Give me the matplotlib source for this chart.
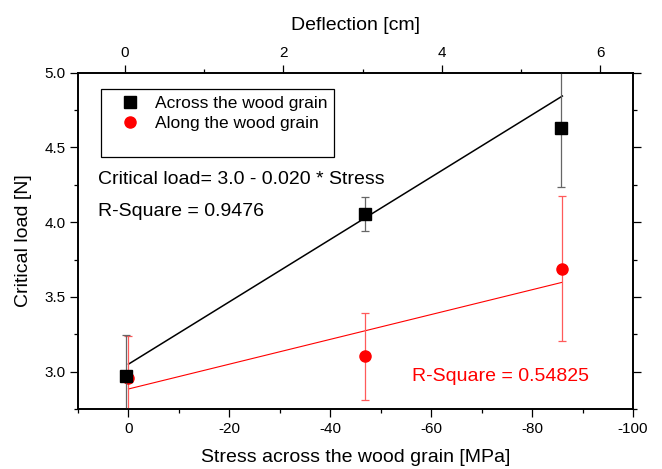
import matplotlib
matplotlib.use("Agg")
import matplotlib.pyplot as plt
import numpy as np
from matplotlib.lines import Line2D
from matplotlib.ticker import MultipleLocator, FormatStrFormatter

plt.rcParams['font.family'] = ['Liberation Sans', 'DejaVu Sans']
plt.rcParams['axes.unicode_minus'] = False

# data
across_stress = [0.4, -46.8, -85.8]
across_load = [2.97, 4.056, 4.628]
across_err = [0.275, 0.115, 0.395]

along_stress = [0.0, -46.8, -85.9]
along_load = [2.96, 3.103, 3.69]
along_err = [0.277, 0.29, 0.487]

# linear fits (intercept, slope) and the stress range they cover
across_fit = (3.05, -0.02086)
along_fit = (2.884, -0.0083)
fit_range = [0.0, -86.0]

across_r2 = "R-Square = 0.9476"
along_r2 = "R-Square = 0.54825"
across_eq = "Critical load= 3.0 - 0.020 * Stress"

fig = plt.figure(figsize=(6.62, 4.69), dpi=100)
ax = fig.add_axes([78/662, 1-409/469, (633-78)/662, (409-72.7)/469])

# red first so the black squares sit on top
ax.errorbar(along_stress, along_load, yerr=along_err, fmt='o', color='red',
            ms=8, ecolor='#ff5a5a', elinewidth=0.9, capsize=3.2, capthick=0.9,
            zorder=3)
ax.errorbar(across_stress, across_load, yerr=across_err, fmt='s', color='black',
            ms=8.8, ecolor='#666666', elinewidth=0.9, capsize=3.2, capthick=0.9,
            zorder=4)

xs = np.array(fit_range)
ax.plot(xs, across_fit[0] + across_fit[1]*xs, color='black', lw=1.1, zorder=2)
ax.plot(xs, along_fit[0] + along_fit[1]*xs, color='red', lw=0.8, zorder=2)

ax.set_xlim(10, -100)
ax.set_ylim(2.75, 5.0)
ax.xaxis.set_major_locator(MultipleLocator(20))
ax.xaxis.set_minor_locator(MultipleLocator(10))
ax.yaxis.set_major_locator(MultipleLocator(0.5))
ax.yaxis.set_minor_locator(MultipleLocator(0.25))
ax.yaxis.set_major_formatter(FormatStrFormatter('%.1f'))
ax.tick_params(which='both', direction='out', width=0.9, labelsize=11,
               right=True, top=False)
ax.tick_params(which='major', length=5.5)
ax.tick_params(which='minor', length=3)
for s in ax.spines.values():
    s.set_linewidth(1.2)

ax.set_xlabel("Stress across the wood grain [MPa]", fontsize=14, labelpad=10)
ax.set_ylabel("Critical load [N]", fontsize=14, labelpad=9)

top = ax.twiny()
top.set_xlim(-0.59, 6.41)
top.xaxis.set_major_locator(MultipleLocator(2))
top.xaxis.set_minor_locator(MultipleLocator(1))
top.tick_params(which='both', direction='out', width=0.9, labelsize=11)
top.tick_params(which='major', length=5.5)
top.tick_params(which='minor', length=3)
top.set_xlabel("Deflection [cm]", fontsize=14, labelpad=12)
for s in top.spines.values():
    s.set_linewidth(1.2)

handles = [
    Line2D([], [], marker='s', ls='none', color='black', ms=8.8),
    Line2D([], [], marker='o', ls='none', color='red', ms=8),
    Line2D([], [], ls='none'),
]
leg = ax.legend(handles, ["Across the wood grain", "Along the wood grain", " "],
                loc='upper left', bbox_to_anchor=(101/662, 1-89/469),
                bbox_transform=fig.transFigure, fontsize=12.5, frameon=True,
                fancybox=False, edgecolor='black', framealpha=1,
                borderpad=0.4, labelspacing=0.25, handletextpad=0.15,
                handlelength=2.55, borderaxespad=0)
leg.get_frame().set_linewidth(0.9)

fig.text(98/662, 1-179/469, across_eq, fontsize=14, va='center', ha='left')
fig.text(98/662, 1-211/469, across_r2, fontsize=14, va='center', ha='left')
fig.text(412/662, 1-376/469, along_r2, fontsize=14, va='center', ha='left',
         color='red')

fig.savefig("out.png", dpi=100)
